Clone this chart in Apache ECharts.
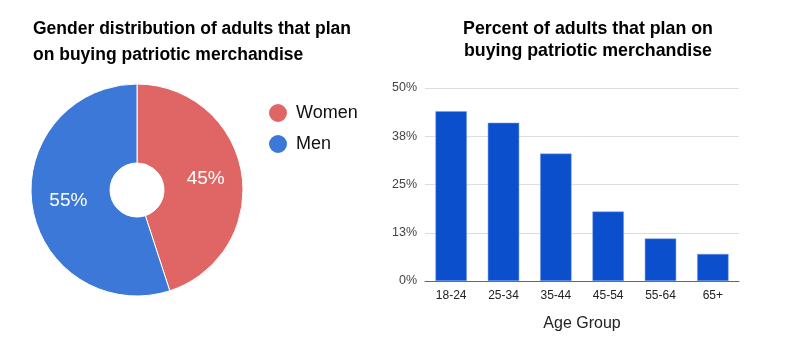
<!DOCTYPE html>
<html>
<head>
<meta charset="utf-8">
<script src="https://cdn.jsdelivr.net/npm/echarts@6/dist/echarts.min.js"></script>
<style>html,body{margin:0;padding:0;background:#fff}#c{width:800px;height:337px}</style>
</head>
<body>
<div id="c"></div>
<script>
var genderLabels = ['Women', 'Men'];
var genderValues = [45, 55];
var ageGroups = ['18-24', '25-34', '35-44', '45-54', '55-64', '65+'];
var agePercents = [44, 41, 33, 18, 11, 7];
var yTicks = [0, 12.5, 25, 37.5, 50];

var chart = echarts.init(document.getElementById('c'));
var font = 'Liberation Sans, Arial, sans-serif';
chart.setOption({
  animation: false,
  textStyle: { fontFamily: font },
  title: [
    { text: 'Gender distribution of adults that plan\non buying patriotic merchandise', left: 28, top: 11,
      textStyle: { fontSize: 17.5, fontWeight: 'bold', color: '#000', lineHeight: 26, fontFamily: font } },
    { text: 'Percent of adults that plan on\nbuying patriotic merchandise', left: 583, textAlign: 'center', top: 13,
      textStyle: { fontSize: 17.8, fontWeight: 'bold', color: '#000', lineHeight: 22, fontFamily: font } }
  ],
  legend: {
    orient: 'vertical', left: 262, top: 97, icon: 'circle', itemWidth: 20, itemHeight: 20, itemGap: 9,
    data: genderLabels,
    textStyle: { fontSize: 18, color: '#111', fontFamily: font, padding: [0, 0, 0, 3] }
  },
  color: ['#e06666', '#3c78d8'],
  grid: { left: 425, right: 61, top: 88, bottom: 56 },
  xAxis: {
    type: 'category', data: ageGroups,
    name: 'Age Group', nameLocation: 'middle', nameGap: 35,
    nameTextStyle: { fontSize: 16, color: '#222', fontFamily: font },
    axisLine: { lineStyle: { color: '#666' } },
    axisTick: { show: false },
    axisLabel: { fontSize: 12, color: '#222', margin: 9 }
  },
  yAxis: {
    type: 'value', min: yTicks[0], max: yTicks[yTicks.length - 1], interval: yTicks[1] - yTicks[0],
    axisLabel: { fontSize: 12.5, color: '#444', margin: 8, formatter: function (v) { return Math.round(v) + '%'; } },
    splitLine: { lineStyle: { color: '#ddd' } },
    axisLine: { show: false }, axisTick: { show: false }
  },
  series: [
    {
      type: 'pie', center: [137, 190], radius: [27, 106], startAngle: 90, clockwise: true,
      data: genderLabels.map(function (n, i) { return { name: n, value: genderValues[i] }; }),
      itemStyle: { borderColor: '#fff', borderWidth: 1 },
      label: { position: 'inside', formatter: '{d}%', color: '#fff', fontSize: 19, fontWeight: 500, fontFamily: font },
      labelLine: { show: false }
    },
    {
      type: 'bar', data: agePercents, barWidth: '60%',
      itemStyle: { color: '#0b4fcd', borderColor: '#7aa0ee', borderWidth: 0.5 }
    }
  ]
});
</script>
</body>
</html>
